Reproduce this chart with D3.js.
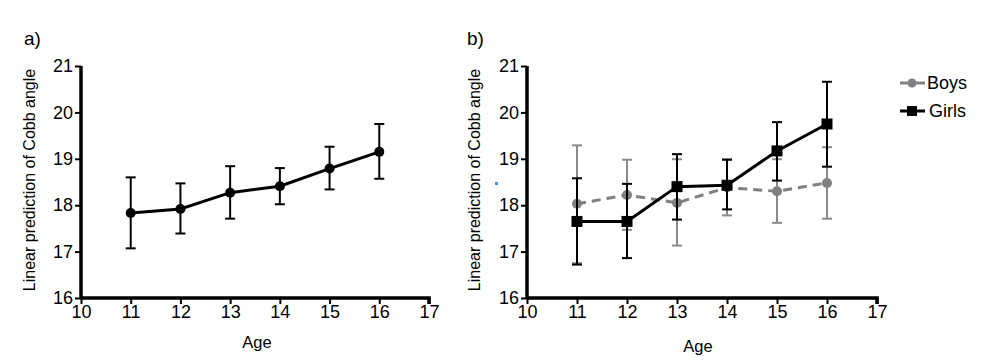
<!DOCTYPE html>
<html>
<head>
<meta charset="utf-8">
<script src="https://cdn.jsdelivr.net/npm/d3@7"></script>
<style>
body { margin: 0; background: #fff; }
text { font-family: "Liberation Sans", Arial, sans-serif; }
</style>
</head>
<body>
<script>
// ages on x axis
ages = [11, 12, 13, 14, 15, 16];
xTicks = [10, 11, 12, 13, 14, 15, 16, 17];
yTicks = [16, 17, 18, 19, 20, 21];

// panel a: all children
allMean = [17.83, 17.92, 18.27, 18.41, 18.79, 19.15];
allLow  = [17.07, 17.39, 17.71, 18.02, 18.34, 18.57];
allHigh = [18.60, 18.47, 18.84, 18.80, 19.26, 19.75];

// panel b: boys / girls
boysMean = [18.03, 18.22, 18.05, 18.38, 18.30, 18.48];
boysLow  = [16.75, 17.47, 17.13, 17.78, 17.62, 17.71];
boysHigh = [19.29, 18.98, 18.99, 18.99, 18.99, 19.25];

girlsMean = [17.65, 17.65, 18.40, 18.43, 19.17, 19.75];
girlsLow  = [16.72, 16.86, 17.69, 17.91, 18.53, 18.83];
girlsHigh = [18.58, 18.46, 19.10, 18.98, 19.79, 20.66];

var svg = d3.select("body").append("svg")
    .attr("width", 981)
    .attr("height", 362);

// build one panel with its axes, returns scales
function makePanel(x0, x1, label, labelX, yLabelX, ageX, ageY) {
    var x = d3.scaleLinear().domain([10, 17]).range([x0, x1]);
    var y = d3.scaleLinear().domain([16, 21]).range([298, 66]);
    var g = svg.append("g");

    var xa = g.append("g").attr("transform", "translate(0,298)")
        .call(d3.axisBottom(x).tickValues(xTicks).tickSize(6).tickPadding(1).tickFormat(d3.format("d")));
    var ya = g.append("g").attr("transform", "translate(" + x0 + ",0)")
        .call(d3.axisLeft(y).tickValues(yTicks).tickSize(6).tickPadding(2).tickFormat(d3.format("d")));
    [xa, ya].forEach(function (a) {
        a.select(".domain").attr("stroke", "#000").attr("stroke-width", 3.5);
        a.selectAll(".tick line").attr("stroke", "#000").attr("stroke-width", 2);
        a.selectAll(".tick text").attr("font-size", 18).attr("fill", "#000")
            .style("font-family", "Liberation Sans, Arial, sans-serif");
    });
    // plain axis lines, no end ticks
    xa.select(".domain").attr("d", "M" + x0 + ",0H" + x1 + "V6");
    ya.select(".domain").attr("d", "M0,66V298");

    g.append("text").attr("x", labelX).attr("y", 45).attr("font-size", 19).text(label);
    g.append("text")
        .attr("transform", "translate(" + yLabelX + ",180) rotate(-90)")
        .attr("text-anchor", "middle").attr("font-size", 16).text("Linear prediction of Cobb angle");
    g.append("text").attr("x", ageX).attr("y", ageY).attr("text-anchor", "middle")
        .attr("font-size", 16.5).text("Age");
    return { x: x, y: y, g: g };
}

// error bars + line + markers for one series
function drawSeries(p, mean, low, high, color, barColor, dash, shape) {
    var x = p.x, y = p.y, g = p.g;
    var bars = g.append("g");
    ages.forEach(function (a, i) {
        bars.append("line").attr("x1", x(a)).attr("x2", x(a))
            .attr("y1", y(low[i])).attr("y2", y(high[i]))
            .attr("stroke", barColor).attr("stroke-width", 2);
        [low[i], high[i]].forEach(function (v) {
            bars.append("line").attr("x1", x(a) - 5).attr("x2", x(a) + 5)
                .attr("y1", y(v)).attr("y2", y(v))
                .attr("stroke", barColor).attr("stroke-width", 2);
        });
    });
    var line = d3.line().x(function (d, i) { return x(ages[i]); }).y(function (d) { return y(d); });
    g.append("path").datum(mean).attr("d", line).attr("fill", "none")
        .attr("stroke", color).attr("stroke-width", 3)
        .attr("stroke-dasharray", dash);
    mean.forEach(function (v, i) {
        if (shape == "square") {
            g.append("rect").attr("x", x(ages[i]) - 5.5).attr("y", y(v) - 5.5)
                .attr("width", 11).attr("height", 11).attr("fill", color);
        } else {
            g.append("circle").attr("cx", x(ages[i])).attr("cy", y(v)).attr("r", 5).attr("fill", color);
        }
    });
}

var pa = makePanel(81, 429, "a)", 24, 35, 257, 348);
drawSeries(pa, allMean, allLow, allHigh, "#000", "#000", null, "circle");

var pb = makePanel(527, 877, "b)", 467, 480, 698, 352);
drawSeries(pb, boysMean, boysLow, boysHigh, "#808080", "#8a8a8a", "9,6", "circle");
drawSeries(pb, girlsMean, girlsLow, girlsHigh, "#000", "#000", null, "square");

// stray blue mark in the original figure
svg.append("rect").attr("x", 495).attr("y", 182).attr("width", 3).attr("height", 3).attr("fill", "#4a90e2");

// legend
var legend = svg.append("g");
[["Boys", "#808080", "circle", 83, 927], ["Girls", "#000", "square", 111, 929]].forEach(function (d) {
    legend.append("line").attr("x1", 900).attr("x2", 925).attr("y1", d[3]).attr("y2", d[3])
        .attr("stroke", d[1]).attr("stroke-width", 3);
    if (d[2] == "circle") {
        legend.append("circle").attr("cx", 912).attr("cy", d[3]).attr("r", 4.5).attr("fill", d[1]);
    } else {
        legend.append("rect").attr("x", 907).attr("y", d[3] - 5).attr("width", 10).attr("height", 10).attr("fill", d[1]);
    }
    legend.append("text").attr("x", d[4]).attr("y", d[3] + 6)
        .attr("font-size", 18).text(d[0]);
});
</script>
</body>
</html>
